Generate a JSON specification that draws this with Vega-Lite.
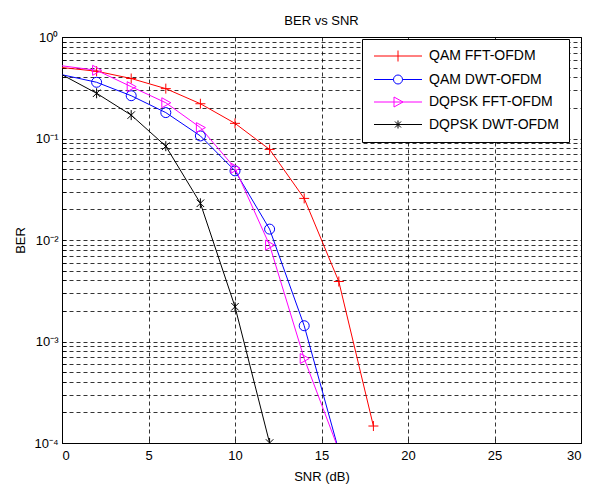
{
  "$schema": "https://vega.github.io/schema/vega-lite/v6.json",
  "width": 519,
  "height": 406,
  "autosize": "none",
  "padding": {"left": 62, "top": 37, "right": 10, "bottom": 45},
  "background": "#ffffff",
  "title": {"text": "BER vs SNR", "font": "Liberation Sans", "fontSize": 13, "fontWeight": "normal", "color": "#000", "frame": "group", "offset": 3},
  "config": {
    "view": {"stroke": "#000", "strokeWidth": 1},
    "axis": {
      "domainColor": "#000", "domainWidth": 1,
      "tickColor": "#000", "tickSize": -4, "tickWidth": 0.8,
      "grid": true, "gridColor": "#000", "gridDash": [4, 3], "gridWidth": 0.8, "gridOpacity": 1,
      "labelFont": "Liberation Sans", "labelFontSize": 13, "labelColor": "#000",
      "titleFont": "Liberation Sans", "titleFontSize": 13, "titleFontWeight": "normal", "titleColor": "#000"
    }
  },
  "data": {
    "values": [
      {"series": "QAM FFT-OFDM", "snr": 0, "ber": 0.50},
      {"series": "QAM FFT-OFDM", "snr": 2, "ber": 0.46},
      {"series": "QAM FFT-OFDM", "snr": 4, "ber": 0.39},
      {"series": "QAM FFT-OFDM", "snr": 6, "ber": 0.31},
      {"series": "QAM FFT-OFDM", "snr": 8, "ber": 0.22},
      {"series": "QAM FFT-OFDM", "snr": 10, "ber": 0.141},
      {"series": "QAM FFT-OFDM", "snr": 12, "ber": 0.078},
      {"series": "QAM FFT-OFDM", "snr": 14, "ber": 0.0257},
      {"series": "QAM FFT-OFDM", "snr": 16, "ber": 0.0039},
      {"series": "QAM FFT-OFDM", "snr": 18, "ber": 0.000147},
      {"series": "QAM DWT-OFDM", "snr": 0, "ber": 0.425},
      {"series": "QAM DWT-OFDM", "snr": 2, "ber": 0.358},
      {"series": "QAM DWT-OFDM", "snr": 4, "ber": 0.264},
      {"series": "QAM DWT-OFDM", "snr": 6, "ber": 0.18},
      {"series": "QAM DWT-OFDM", "snr": 8, "ber": 0.106},
      {"series": "QAM DWT-OFDM", "snr": 10, "ber": 0.048},
      {"series": "QAM DWT-OFDM", "snr": 12, "ber": 0.0128},
      {"series": "QAM DWT-OFDM", "snr": 14, "ber": 0.00143},
      {"series": "QAM DWT-OFDM", "snr": 16, "ber": 0.000084},
      {"series": "DQPSK FFT-OFDM", "snr": 0, "ber": 0.52},
      {"series": "DQPSK FFT-OFDM", "snr": 2, "ber": 0.47},
      {"series": "DQPSK FFT-OFDM", "snr": 4, "ber": 0.324},
      {"series": "DQPSK FFT-OFDM", "snr": 6, "ber": 0.225},
      {"series": "DQPSK FFT-OFDM", "snr": 8, "ber": 0.128},
      {"series": "DQPSK FFT-OFDM", "snr": 10, "ber": 0.051},
      {"series": "DQPSK FFT-OFDM", "snr": 12, "ber": 0.0089},
      {"series": "DQPSK FFT-OFDM", "snr": 14, "ber": 0.00068},
      {"series": "DQPSK FFT-OFDM", "snr": 16, "ber": 0.000085},
      {"series": "DQPSK DWT-OFDM", "snr": 0, "ber": 0.425},
      {"series": "DQPSK DWT-OFDM", "snr": 2, "ber": 0.279},
      {"series": "DQPSK DWT-OFDM", "snr": 4, "ber": 0.17},
      {"series": "DQPSK DWT-OFDM", "snr": 6, "ber": 0.084},
      {"series": "DQPSK DWT-OFDM", "snr": 8, "ber": 0.023},
      {"series": "DQPSK DWT-OFDM", "snr": 10, "ber": 0.0022},
      {"series": "DQPSK DWT-OFDM", "snr": 12, "ber": 0.0001}
    ]
  },
  "encoding": {
    "x": {
      "field": "snr", "type": "quantitative",
      "scale": {"domain": [0, 30], "nice": false, "zero": false},
      "axis": {"values": [0, 5, 10, 15, 20, 25, 30], "title": "SNR (dB)", "labelPadding": 10, "titlePadding": 8}
    },
    "y": {
      "field": "ber", "type": "quantitative",
      "scale": {"type": "log", "domain": [0.0001, 1], "nice": false},
      "axis": {
        "values": [0.0001, 0.0002, 0.0003, 0.0004, 0.0005, 0.0006, 0.0007, 0.0008, 0.0009, 0.001, 0.002, 0.003, 0.004, 0.005, 0.006, 0.007, 0.008, 0.009, 0.01, 0.02, 0.03, 0.04, 0.05, 0.06, 0.07, 0.08, 0.09, 0.1, 0.2, 0.3, 0.4, 0.5, 0.6, 0.7, 0.8, 0.9, 1],
        "labelExpr": "datum.value == 1 ? '10⁰' : datum.value == 0.1 ? '10⁻¹' : datum.value == 0.01 ? '10⁻²' : datum.value == 0.001 ? '10⁻³' : datum.value == 0.0001 ? '10⁻⁴' : ''",
        "title": "BER", "labelPadding": 8, "titlePadding": 6
      }
    }
  },
  "resolve": {"scale": {"color": "independent", "shape": "independent"}},
  "layer": [
    {
      "mark": {"type": "line", "clip": true, "strokeWidth": 1},
      "encoding": {
        "color": {
          "field": "series", "type": "nominal",
          "scale": {"domain": ["QAM FFT-OFDM", "QAM DWT-OFDM", "DQPSK FFT-OFDM", "DQPSK DWT-OFDM"], "range": ["#ff0000", "#0000ff", "#ff00ff", "#000000"]},
          "legend": null
        }
      }
    },
    {
      "transform": [{"filter": "datum.snr > 0"}],
      "mark": {"type": "point", "clip": true, "filled": false, "strokeWidth": 1, "opacity": 1},
      "encoding": {
        "color": {
          "field": "series", "type": "nominal",
          "scale": {"domain": ["QAM FFT-OFDM", "QAM DWT-OFDM", "DQPSK FFT-OFDM", "DQPSK DWT-OFDM"], "range": ["#ff0000", "#0000ff", "#ff00ff", "#000000"]},
          "legend": null
        },
        "shape": {
          "field": "series", "type": "nominal",
          "scale": {"domain": ["QAM FFT-OFDM", "QAM DWT-OFDM", "DQPSK FFT-OFDM", "DQPSK DWT-OFDM"], "range": ["M-1,0L1,0M0,-1L0,1", "circle", "M-0.8,-1L1,0L-0.8,1Z", "M0,-1L0,1M-0.75,-0.75L0.75,0.75M-0.75,0.75L0.75,-0.75"]},
          "legend": null
        },
        "size": {"value": 100}
      }
    },
    {
      "mark": {"type": "point", "clip": true, "filled": false, "strokeWidth": 1, "opacity": 0},
      "encoding": {
        "color": {
          "field": "series", "type": "nominal",
          "scale": {"domain": ["QAM FFT-OFDM", "QAM DWT-OFDM", "DQPSK FFT-OFDM", "DQPSK DWT-OFDM"], "range": ["#ff0000", "#0000ff", "#ff00ff", "#000000"]},
          "legend": {
            "orient": "none", "legendX": 300, "legendY": 2, "title": null,
            "padding": 10, "strokeColor": "#000", "fillColor": "#fff",
            "labelFont": "Liberation Sans", "labelFontSize": 14, "labelColor": "#000",
            "symbolSize": 100, "symbolOffset": 19, "labelOffset": 24, "rowPadding": 8.5,
            "symbolStrokeWidth": 1, "symbolFillColor": "transparent", "symbolOpacity": 1
          }
        },
        "shape": {
          "field": "series", "type": "nominal",
          "scale": {"domain": ["QAM FFT-OFDM", "QAM DWT-OFDM", "DQPSK FFT-OFDM", "DQPSK DWT-OFDM"], "range": ["M-4.8,0L4.8,0M0,-1.1L0,1.1", "M-4.8,0L-0.9,0M0.9,0L4.8,0M-0.9,0A0.9,0.9 0 1,1 0.9,0A0.9,0.9 0 1,1 -0.9,0", "M-4.8,0L4.8,0M-0.8,-1L1,0L-0.8,1Z", "M-4.8,0L4.8,0M0,-0.8L0,0.8M-0.6,-0.6L0.6,0.6M-0.6,0.6L0.6,-0.6"]},
          "legend": {
            "orient": "none", "legendX": 300, "legendY": 2, "title": null,
            "padding": 10, "strokeColor": "#000", "fillColor": "#fff",
            "labelFont": "Liberation Sans", "labelFontSize": 14, "labelColor": "#000",
            "symbolSize": 100, "symbolOffset": 19, "labelOffset": 24, "rowPadding": 8.5,
            "symbolStrokeWidth": 1, "symbolFillColor": "transparent", "symbolOpacity": 1
          }
        }
      }
    }
  ]
}
